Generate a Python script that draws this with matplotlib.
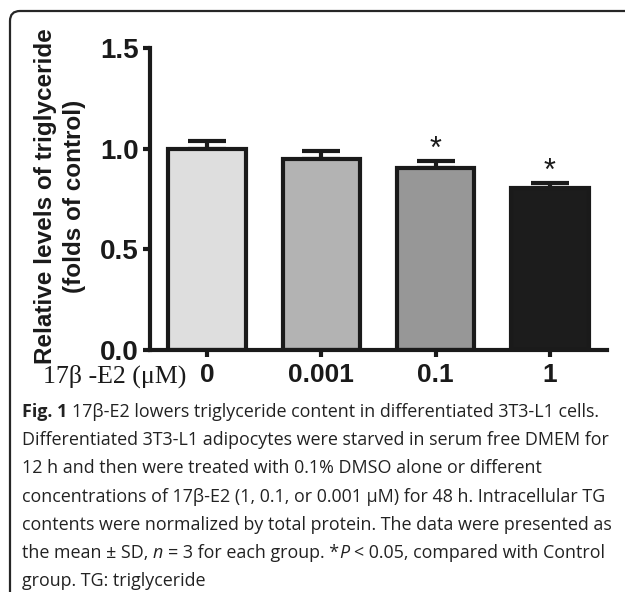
# -*- coding: utf-8 -*-
"""
Bar chart: relative triglyceride levels in 3T3-L1 cells after 17beta-E2 treatment,
with the figure caption underneath.

Output:
    out.png
"""
import matplotlib

matplotlib.use("Agg")
import matplotlib.pyplot as plt
from matplotlib.path import Path
from matplotlib.patches import PathPatch

# ---- data ----
DOSES = ["0", "0.001", "0.1", "1"]
MEANS = [1.00, 0.95, 0.905, 0.806]
SD = [0.036, 0.040, 0.034, 0.025]
SIGNIFICANT = [False, False, True, True]
BAR_COLORS = ["#dedede", "#b3b3b3", "#979797", "#1c1c1c"]
Y_TICKS = [0.0, 0.5, 1.0, 1.5]

Y_LABEL = "Relative levels of triglyceride\n(folds of control)"
X_LABEL = "17\u03b2 -E2 (\u03bcM)"

CAPTION = [
    [("Fig. 1", "bold"), (" 17\u03b2-E2 lowers triglyceride content in differentiated 3T3-L1 cells.", "normal")],
    [("Differentiated 3T3-L1 adipocytes were starved in serum free DMEM for", "normal")],
    [("12 h and then were treated with 0.1% DMSO alone or different", "normal")],
    [("concentrations of 17\u03b2-E2 (1, 0.1, or 0.001 \u03bcM) for 48 h. Intracellular TG", "normal")],
    [("contents were normalized by total protein. The data were presented as", "normal")],
    [("the mean \u00b1 SD, ", "normal"), ("n", "italic"), (" = 3 for each group. *", "normal"),
     ("P", "italic"), (" < 0.05, compared with Control", "normal")],
    [("group. TG: triglyceride", "normal")],
]

W, H = 625, 592
INK = "#1a1a1a"
SANS = "Liberation Sans"
SERIF = "Liberation Serif"
CAPTION_FONT = "Open Sans"
CAPTION_SIZE = 12.9


def fx(px):
    return px / W


def fy(py):
    return 1 - py / H


def draw_runs(fig, renderer, x_px, y_px, runs):
    """Draw a caption line made of styled runs, one after the other."""
    probe = fig.text(0, 0, "x x", family=CAPTION_FONT, fontsize=CAPTION_SIZE)
    probe2 = fig.text(0, 0, "xx", family=CAPTION_FONT, fontsize=CAPTION_SIZE)
    space = probe.get_window_extent(renderer).width - probe2.get_window_extent(renderer).width
    probe.remove()
    probe2.remove()

    x = x_px
    for text, style in runs:
        if text.startswith(" "):
            x += space
        core = text.strip()
        kw = dict(family=CAPTION_FONT, fontsize=CAPTION_SIZE, color="#222222",
                  ha="left", va="center")
        if style == "bold":
            kw["fontweight"] = "bold"
        elif style == "italic":
            kw["fontstyle"] = "italic"
        t = fig.text(fx(x), fy(y_px), core, **kw)
        x += t.get_window_extent(renderer).width
        if text.endswith(" "):
            x += space


def main():
    fig = plt.figure(figsize=(W / 100, H / 100), dpi=100)
    ax = fig.add_axes([fx(150), fy(350), fx(607) - fx(150), fy(48) - fy(350)])

    xs = list(range(len(DOSES)))
    ax.errorbar(xs, MEANS, yerr=[[0] * len(SD), SD], fmt="none", ecolor=INK,
                elinewidth=3, capsize=14, capthick=3, zorder=1)
    ax.bar(xs, MEANS, width=0.68, color=BAR_COLORS, edgecolor=INK, linewidth=3, zorder=2)

    for x, m, s, sig in zip(xs, MEANS, SD, SIGNIFICANT):
        if sig:
            ax.annotate("*", (x, m + s), xytext=(0, -3), textcoords="offset points",
                        ha="center", va="bottom", fontsize=22, family=SANS, color=INK)

    ax.set_xlim(-0.5, 3.5)
    ax.set_ylim(0, 1.5)
    ax.set_xticks(xs)
    ax.set_xticklabels(DOSES)
    ax.set_yticks(Y_TICKS)
    ax.set_yticklabels([f"{v:.1f}" for v in Y_TICKS])

    for side in ("top", "right"):
        ax.spines[side].set_visible(False)
    for side in ("left", "bottom"):
        ax.spines[side].set_linewidth(3)
        ax.spines[side].set_color(INK)
    ax.tick_params(axis="both", direction="out", length=5, width=3, color=INK)
    ax.tick_params(axis="y", pad=3)
    ax.tick_params(axis="x", pad=4)
    for lab in ax.get_yticklabels():
        lab.set_fontfamily(SANS)
        lab.set_fontweight("bold")
        lab.set_fontsize(20)
        lab.set_color(INK)
    for lab in ax.get_xticklabels():
        lab.set_fontfamily(SANS)
        lab.set_fontweight("bold")
        lab.set_fontsize(19)
        lab.set_color(INK)

    ax.set_ylabel(Y_LABEL, family=SANS, fontweight="bold", fontsize=17.5,
                  linespacing=1.3, color=INK)
    ax.yaxis.set_label_coords(-0.141, 0.51)

    fig.text(fx(186), fy(376), X_LABEL, family=SERIF, fontsize=18.6,
             ha="right", va="center", color=INK)

    # box border: left and top edges with a rounded corner
    r = 10
    verts = [(10, H), (10, 11 + r), (10, 11), (10 + r, 11), (W, 11)]
    codes = [Path.MOVETO, Path.LINETO, Path.CURVE3, Path.CURVE3, Path.LINETO]
    path = Path([(fx(a), fy(b)) for a, b in verts], codes)
    fig.add_artist(PathPatch(path, fill=False, edgecolor="#262626", linewidth=1.6,
                             transform=fig.transFigure))

    renderer = fig.canvas.get_renderer()
    for i, runs in enumerate(CAPTION):
        draw_runs(fig, renderer, 22, 412 + i * 28.2, runs)

    fig.savefig("out.png", dpi=100)


if __name__ == "__main__":
    main()
